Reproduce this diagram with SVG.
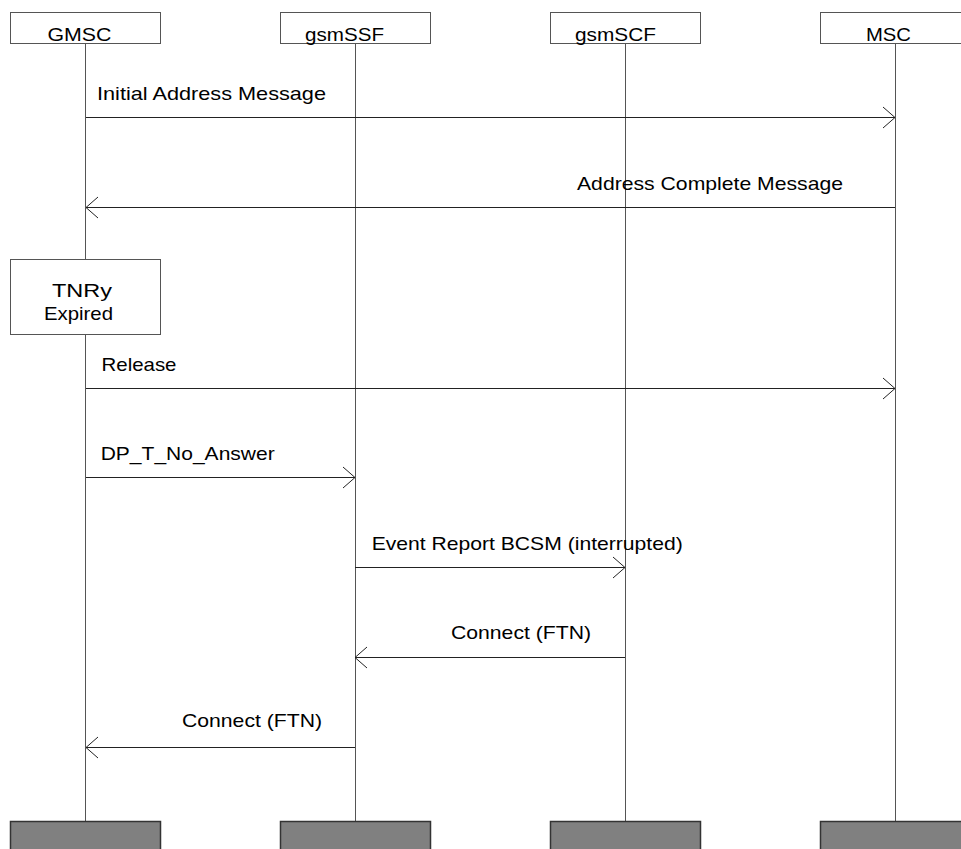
<svg xmlns="http://www.w3.org/2000/svg" width="961" height="849" viewBox="0 0 961 849">
<defs>
<style>
.box{fill:#fff;stroke:#555;stroke-width:1}
.foot{fill:#808080;stroke:#333;stroke-width:1.5}
.life{stroke:#555;stroke-width:1;fill:none}
.msg{stroke:#222;stroke-width:1;fill:none;marker-end:url(#arr)}
text{font-family:"Liberation Sans",Arial,sans-serif;font-size:19px;fill:#000}
</style>
<marker id="arr" markerUnits="userSpaceOnUse" markerWidth="30" markerHeight="30" viewBox="-15 -15 30 30" refX="0" refY="0" orient="auto">
<path d="M-12,-10.5 L0,0 L-12,10.5" fill="none" stroke="#222" stroke-width="1"/>
</marker>
</defs>
<rect width="961" height="849" fill="#fff"/>
<g id="lifelines">
<line class="life" x1="85.5" y1="43" x2="85.5" y2="821"/>
<line class="life" x1="355.5" y1="43" x2="355.5" y2="821"/>
<line class="life" x1="625.5" y1="43" x2="625.5" y2="821"/>
<line class="life" x1="895.5" y1="43" x2="895.5" y2="821"/>
</g>
<g id="GMSC">
<rect class="box" x="10.5" y="12.5" width="150" height="31"/>
<text x="47.5" y="41" textLength="64" lengthAdjust="spacingAndGlyphs">GMSC</text>
<rect class="foot" x="10.5" y="821.5" width="150" height="30"/>
</g>
<g id="gsmSSF">
<rect class="box" x="280.5" y="12.5" width="150" height="31"/>
<text x="305" y="41" textLength="79" lengthAdjust="spacingAndGlyphs">gsmSSF</text>
<rect class="foot" x="280.5" y="821.5" width="150" height="30"/>
</g>
<g id="gsmSCF">
<rect class="box" x="550.5" y="12.5" width="150" height="31"/>
<text x="575" y="41" textLength="81" lengthAdjust="spacingAndGlyphs">gsmSCF</text>
<rect class="foot" x="550.5" y="821.5" width="150" height="30"/>
</g>
<g id="MSC">
<rect class="box" x="820.5" y="12.5" width="150" height="31"/>
<text x="866" y="41" textLength="45" lengthAdjust="spacingAndGlyphs">MSC</text>
<rect class="foot" x="820.5" y="821.5" width="150" height="30"/>
</g>
<g id="TNRy">
<rect class="box" x="10.5" y="259.5" width="150" height="75"/>
<text x="52" y="297" textLength="60" lengthAdjust="spacingAndGlyphs">TNRy</text>
<text x="44" y="320" textLength="69" lengthAdjust="spacingAndGlyphs">Expired</text>
</g>
<g id="connectors">
<line class="msg" x1="86" y1="117.5" x2="895" y2="117.5"/>
<line class="msg" x1="895" y1="207.5" x2="86" y2="207.5"/>
<line class="msg" x1="86" y1="388.5" x2="895" y2="388.5"/>
<line class="msg" x1="86" y1="477.5" x2="355" y2="477.5"/>
<line class="msg" x1="355" y1="567.5" x2="625" y2="567.5"/>
<line class="msg" x1="625" y1="657.5" x2="355" y2="657.5"/>
<line class="msg" x1="355" y1="747.5" x2="86" y2="747.5"/>
<text x="97" y="100" textLength="229" lengthAdjust="spacingAndGlyphs">Initial Address Message</text>
<text x="577" y="189.5" textLength="266" lengthAdjust="spacingAndGlyphs">Address Complete Message</text>
<text x="101.5" y="370.5" textLength="75" lengthAdjust="spacingAndGlyphs">Release</text>
<text x="100.7" y="460" textLength="174" lengthAdjust="spacingAndGlyphs">DP_T_No_Answer</text>
<text x="371.7" y="550" textLength="311" lengthAdjust="spacingAndGlyphs">Event Report BCSM (interrupted)</text>
<text x="451" y="638.5" textLength="140" lengthAdjust="spacingAndGlyphs">Connect (FTN)</text>
<text x="182" y="727" textLength="140" lengthAdjust="spacingAndGlyphs">Connect (FTN)</text>
</g>
</svg>
